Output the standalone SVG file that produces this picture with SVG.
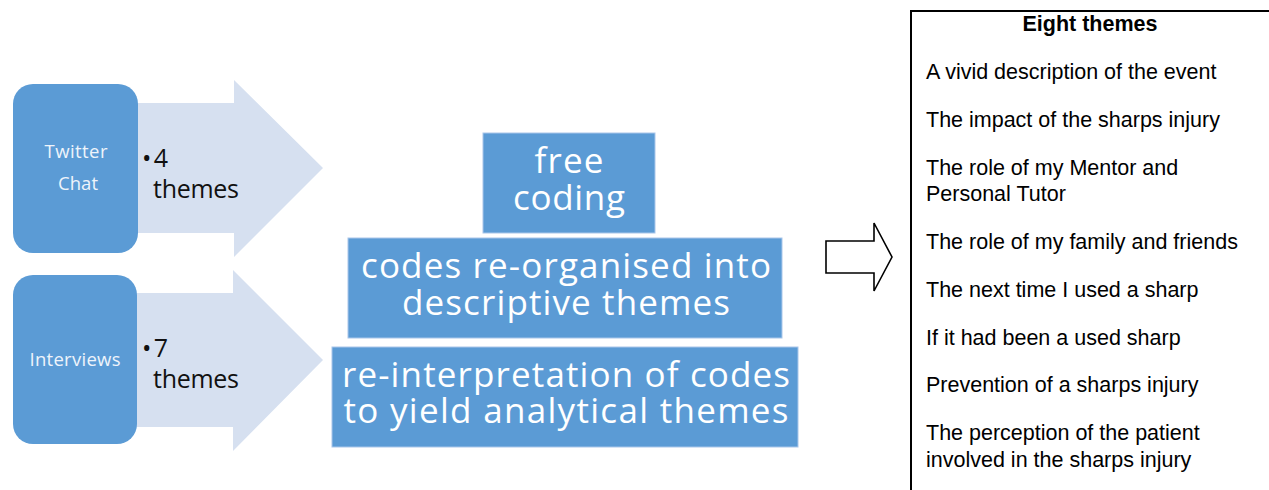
<svg xmlns="http://www.w3.org/2000/svg" width="1269" height="490" viewBox="0 0 1269 490">
<style>
.arrowbg{fill:#d6e0f0;}
.src{fill:#5b9bd5;}
.step{fill:#5b9bd5;stroke:#a9c6ea;stroke-width:1;}
.srctxt{font-family:"Open Sans","Liberation Sans",sans-serif;font-size:18.5px;fill:#eef4fb;text-anchor:middle;}
.bul{font-family:"Open Sans","Liberation Sans",sans-serif;font-size:25px;fill:#111;}
.steptxt{font-family:"Open Sans","DejaVu Sans",sans-serif;font-size:35px;fill:#fff;text-anchor:middle;}
.list{font-family:"Liberation Sans",Arial,sans-serif;font-size:21.5px;fill:#000;}
</style>
<g id="connectors">
<polygon class="arrowbg" points="120,103 234,103 234,80 323,168 234,257 234,233 120,233"/>
<polygon class="arrowbg" points="120,293 233,293 233,270 323,360 233,451 233,427 120,427"/>
<polygon points="826,241 874,241 874,223 892,257 874,291 874,273 826,273" fill="#fff" stroke="#000" stroke-width="1.6"/>
</g>
<g id="twitter">
<rect class="src" x="13" y="84" width="125" height="169" rx="20"/>
<text class="srctxt" x="76" y="158" textLength="63">Twitter</text>
<text class="srctxt" x="78" y="190" textLength="40">Chat</text>
<text class="bul" x="142" y="167" textLength="26">•4</text>
<text class="bul" x="153" y="198" textLength="86">themes</text>
</g>
<g id="interviews">
<rect class="src" x="13" y="275" width="124" height="169" rx="20"/>
<text class="srctxt" x="75" y="366" textLength="91">Interviews</text>
<text class="bul" x="142" y="357" textLength="26">•7</text>
<text class="bul" x="153" y="388" textLength="86">themes</text>
</g>
<g id="free-coding">
<rect class="step" x="483" y="133" width="172" height="100"/>
<text class="steptxt" x="569" y="173" textLength="69">free</text>
<text class="steptxt" x="569" y="210" textLength="112">coding</text>
</g>
<g id="descriptive">
<rect class="step" x="348" y="238" width="434" height="100"/>
<text class="steptxt" x="566" y="278" textLength="410">codes re-organised into</text>
<text class="steptxt" x="566" y="315" textLength="328">descriptive themes</text>
</g>
<g id="analytical">
<rect class="step" x="332" y="347" width="466" height="100"/>
<text class="steptxt" x="566" y="387" textLength="448">re-interpretation of codes</text>
<text class="steptxt" x="566" y="423" textLength="445">to yield analytical themes</text>
</g>
<g id="eight-themes">
<rect x="911" y="11" width="400" height="500" fill="#fff" stroke="#000" stroke-width="2"/>
<text class="list" x="1090" y="31" text-anchor="middle" font-weight="bold">Eight themes</text>
<text class="list" x="926" y="79">A vivid description of the event</text>
<text class="list" x="926" y="127">The impact of the sharps injury</text>
<text class="list" x="926" y="175">The role of my Mentor and</text>
<text class="list" x="926" y="201">Personal Tutor</text>
<text class="list" x="926" y="249">The role of my family and friends</text>
<text class="list" x="926" y="297">The next time I used a sharp</text>
<text class="list" x="926" y="345">If it had been a used sharp</text>
<text class="list" x="926" y="392">Prevention of a sharps injury</text>
<text class="list" x="926" y="440">The perception of the patient</text>
<text class="list" x="926" y="467">involved in the sharps injury</text>
</g>
</svg>
